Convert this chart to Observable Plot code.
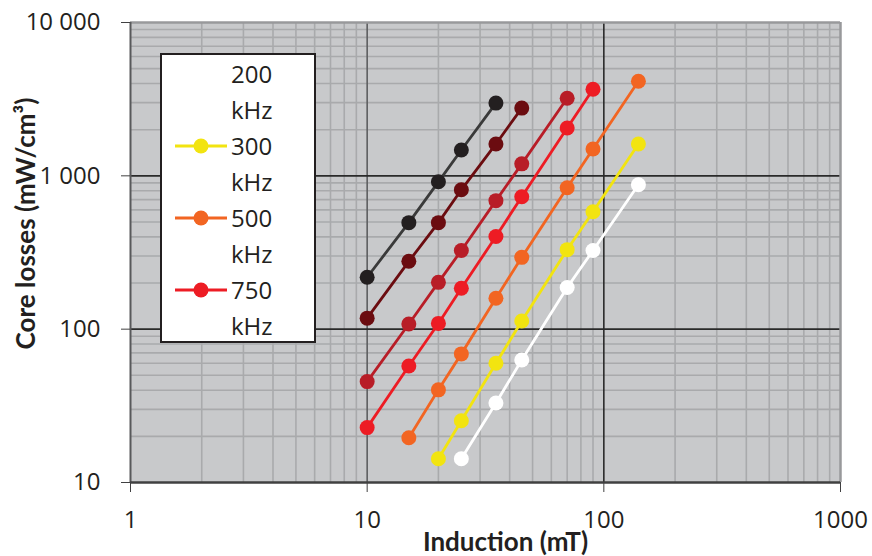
<!DOCTYPE html>
<html>
<head>
<meta charset="utf-8">
<script src="https://cdn.jsdelivr.net/npm/d3@7"></script>
<script src="https://cdn.jsdelivr.net/npm/@observablehq/plot@0.6"></script>
<style>
  html, body { margin: 0; padding: 0; background: #fff; }
  #wrap { position: relative; width: 872px; height: 556px; font-family: "Open Sans", sans-serif; color: #231f20; }
  #legend { position: absolute; left: 160px; top: 53px; width: 152px; height: 286px; background: #fff; border: 2px solid #231f20; }
  .entry { position: absolute; left: 0; height: 72px; width: 152px; }
  .entry svg { position: absolute; left: 11px; top: 0; }
  .entry .lab { position: absolute; left: 69px; top: 0; font-size: 24px; line-height: 36px; }
</style>
</head>
<body>
<div id="wrap"><div id="legend"></div></div>
<script>
// ---- data ----
const seriesNames = ["200 kHz", "300 kHz", "500 kHz", "750 kHz", "1000 kHz", "1500 kHz", "2000 kHz"];
const seriesColors = ["#ffffff", "#f2e410", "#f26522", "#ed1c24", "#b81d27", "#6b0c10", "#231f20"];
const lineColors   = ["#ffffff", "#f2e410", "#f26522", "#ed1c24", "#b81d27", "#6b0c10", "#3a3a3a"];
const legendCount = 4;

const x200  = [25, 35, 45, 70, 90, 140];
const y200  = [14.3, 33, 63, 187, 326, 875];
const x300  = [20, 25, 35, 45, 70, 90, 140];
const y300  = [14.3, 25.3, 60, 113, 330, 583, 1614];
const x500  = [15, 20, 25, 35, 45, 70, 90, 140];
const y500  = [19.6, 40.2, 69, 159, 294, 836, 1497, 4140];
const x750  = [10, 15, 20, 25, 35, 45, 70, 90];
const y750  = [22.8, 57.5, 109, 185, 402, 731, 2051, 3672];
const x1000 = [10, 15, 20, 25, 35, 45, 70];
const y1000 = [45.5, 108, 202, 326, 689, 1197, 3207];
const x1500 = [10, 15, 20, 25, 35, 45];
const y1500 = [118, 277, 495, 811, 1614, 2766];
const x2000 = [10, 15, 20, 25, 35];
const y2000 = [218, 495, 914, 1475, 2980];

const xs = [x200, x300, x500, x750, x1000, x1500, x2000];
const ys = [y200, y300, y500, y750, y1000, y1500, y2000];

const xTicks = [1, 10, 100, 1000];
const xTickLabels = ["1", "10", "100", "1000"];
const yTicks = [10, 100, 1000, 10000];
const yTickLabels = ["10", "100", "1 000", "10 000"];
const xTitle = "Induction (mT)";
const yTitle = "Core losses (mW/cm³)";

// ---- build ----
const rows = [];
seriesNames.forEach((s, i) => xs[i].forEach((x, j) => rows.push({series: s, idx: i, x, y: ys[i][j]})));

const xMinor = [1, 10, 100].flatMap(d => d3.range(2, 10).map(k => d * k));
const yMinor = [10, 100, 1000].flatMap(d => d3.range(2, 10).map(k => d * k));
const xLab = new Map(xTicks.map((t, i) => [t, xTickLabels[i]]));
const yLab = new Map(yTicks.map((t, i) => [t, yTickLabels[i]]));

// draw order: dark series first, light last
const order = [6, 5, 4, 3, 2, 1, 0];
const seriesMarks = [];
for (const i of order) {
  const data = rows.filter(r => r.idx === i);
  seriesMarks.push(Plot.line(data, {x: "x", y: "y", stroke: lineColors[i], strokeWidth: 2.8}));
}
for (const i of order) {
  const data = rows.filter(r => r.idx === i);
  seriesMarks.push(Plot.dot(data, {x: "x", y: "y", r: 7.5, fill: seriesColors[i], stroke: "none"}));
}

const chart = Plot.plot({
  width: 872,
  height: 556,
  marginLeft: 130,
  marginRight: 32,
  marginTop: 22,
  marginBottom: 74,
  style: {fontFamily: "Open Sans, sans-serif", fontSize: "24px", color: "#231f20", background: "transparent", overflow: "visible"},
  x: {type: "log", domain: [1, 1000]},
  y: {type: "log", domain: [10, 10000]},
  marks: [
    Plot.frame({fill: "#c8c9cb", stroke: null}),
    Plot.ruleX(xMinor, {stroke: "#a9aaac", strokeWidth: 1.6}),
    Plot.ruleY(yMinor, {stroke: "#a9aaac", strokeWidth: 1.6}),
    Plot.ruleX([10], {stroke: "#5e5f61", strokeWidth: 1.6}),
    Plot.ruleX([100], {stroke: "#2a2a2a", strokeWidth: 1.6}),
    Plot.ruleY([100, 1000], {stroke: "#2a2a2a", strokeWidth: 1.6}),
    Plot.ruleY([10000], {stroke: "#98999b", strokeWidth: 2.5}),
    Plot.ruleX([1000], {stroke: "#98999b", strokeWidth: 2.5}),
    Plot.ruleX([1], {stroke: "#58595b", strokeWidth: 2}),
    Plot.ruleY([10], {stroke: "#404041", strokeWidth: 2.5}),
    ...seriesMarks,
    Plot.axisX({ticks: xTicks, tickFormat: d => xLab.get(d), tickSize: 10, tickPadding: 18, label: null, stroke: "#404041"}),
    Plot.axisY({ticks: yTicks, tickFormat: d => yLab.get(d), tickSize: 9, tickPadding: 21, label: null, stroke: "#404041"}),
    Plot.text([xTitle], {frameAnchor: "bottom", textAnchor: "middle", lineAnchor: "middle", text: d => d, dx: 20, dy: 60, fontWeight: "bold", fontSize: 26, fill: "#231f20", fontFamily: "Lato, Open Sans, sans-serif"}),
    Plot.text([yTitle], {frameAnchor: "left", textAnchor: "middle", lineAnchor: "middle", text: d => d, dx: -104, dy: -29, rotate: -90, fontWeight: "bold", fontSize: 26, fill: "#231f20", fontFamily: "Lato, Open Sans, sans-serif"})
  ]
});
document.getElementById("wrap").prepend(chart);
chart.style.position = "absolute";
chart.style.left = "0";
chart.style.top = "0";

// legend
const legend = document.getElementById("legend");
for (let i = 0; i < legendCount; i++) {
  const e = document.createElement("div");
  e.className = "entry";
  e.style.top = (1 + i * 72) + "px";
  const [num, unit] = seriesNames[i].split(" ");
  e.innerHTML = `<svg width="56" height="36"><line x1="2" x2="54" y1="18" y2="18" stroke="${lineColors[i]}" stroke-width="2.8"/><circle cx="28" cy="18" r="7.5" fill="${seriesColors[i]}"/></svg><div class="lab">${num}<br>${unit}</div>`;
  legend.appendChild(e);
}
</script>
</body>
</html>
